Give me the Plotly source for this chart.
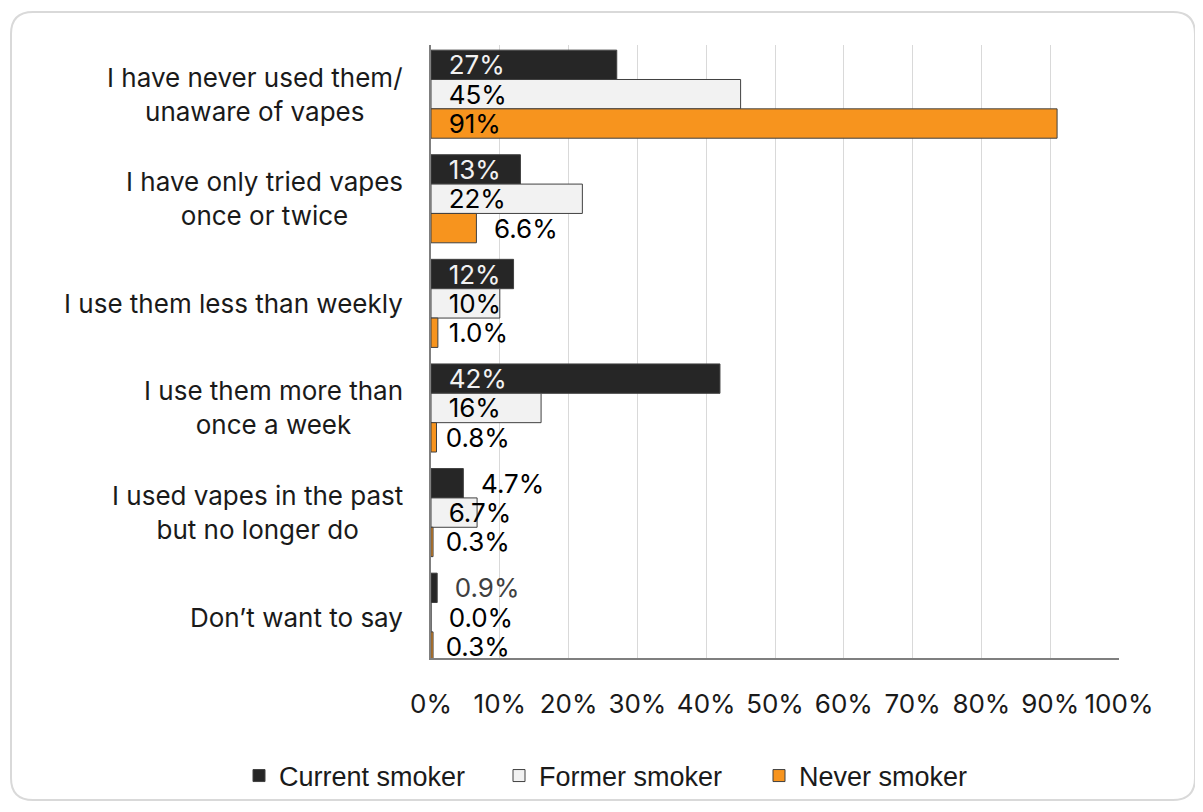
import plotly.graph_objects as go

categories = [
    "I have never used them/<br>unaware of vapes",
    "I have only tried vapes<br>once or twice",
    "I use them less than weekly",
    "I use them more than<br>once a week",
    "I used vapes in the past<br>but no longer do",
    "Don’t want to say",
]
current_smoker = [27, 13, 12, 42, 4.7, 0.9]
former_smoker = [45, 22, 10, 16, 6.7, 0.0]
never_smoker = [91, 6.6, 1.0, 0.8, 0.3, 0.3]
x_ticks = [0, 10, 20, 30, 40, 50, 60, 70, 80, 90, 100]

FONT = "Inter, Arial, sans-serif"
LEG_FONT = "Liberation Sans, Arial, sans-serif"
FS = 26
PAD = "\u00a0\u00a0"

def fmt(v):
    return f"{v:.0f}%" if v >= 10 else f"{v:.1f}%"

series = [
    ("Current smoker", current_smoker, "#262626",
     ["inside", "inside", "inside", "inside", "outside", "outside"],
     ["#f2f2f2", "#f2f2f2", "#f2f2f2", "#f2f2f2", "#000000", "#404040"]),
    ("Former smoker", former_smoker, "#f2f2f2",
     ["inside", "inside", "inside", "inside", "inside", "outside"], ["#000000"] * 6),
    ("Never smoker", never_smoker, "#f7941e",
     ["inside", "outside", "inside", "inside", "inside", "inside"],
     ["#000000"] * 6),
]

fig = go.Figure()
for name, vals, color, pos, tcol in series:
    fig.add_trace(go.Bar(
        y=categories, x=vals, name=name, orientation="h",
        marker=dict(color=color, line=dict(color="#404040", width=1)),
        text=[PAD + fmt(v) for v in vals],
        textposition=pos,
        insidetextanchor="start",
        textangle=0,
        constraintext="none",
        cliponaxis=False,
        textfont=dict(family=FONT, size=FS, color=tcol),
        hoverinfo="skip",
    ))

# page has an 8px body margin; figure coordinates = page coordinates - 8
W, H = 1187, 796
L, R, T, B = 423, 76, 37, 146
pw, ph = W - L - R, H - T - B

def px(x):
    return (x - L) / pw

def py(y):
    return (H - B - y) / ph

# rounded frame
x0, x1, y0, y1, r = 3, 1187, 4, 792, 22
rx, ry = r / pw, r / ph
X0, X1, Y0, Y1 = px(x0), px(x1), py(y0), py(y1)
path = (f"M {X0+rx},{Y0} L {X1-rx},{Y0} Q {X1},{Y0} {X1},{Y0-ry} "
        f"L {X1},{Y1+ry} Q {X1},{Y1} {X1-rx},{Y1} "
        f"L {X0+rx},{Y1} Q {X0},{Y1} {X0},{Y1+ry} "
        f"L {X0},{Y0-ry} Q {X0},{Y0} {X0+rx},{Y0} Z")
fig.add_shape(type="path", path=path, xref="paper", yref="paper",
              line=dict(color="#d9d9d9", width=2), layer="below")

for c in categories:
    fig.add_annotation(x=px(397), y=c, xref="paper", yref="y", text=c,
                       showarrow=False, xanchor="right", align="center",
                       font=dict(family=FONT, size=FS, color="#1a1a1a"))

fig.update_layout(
    width=W, height=H,
    margin=dict(l=L, r=R, t=T, b=B, autoexpand=False),
    paper_bgcolor="white", plot_bgcolor="white",
    barmode="group", bargap=0.158, bargroupgap=0,
    font=dict(family=FONT, size=FS, color="#1a1a1a"),
    showlegend=True,
    legend=dict(orientation="h", x=px(231), xanchor="left", y=py(768), yanchor="middle",
                font=dict(family=LEG_FONT, size=27, color="#1a1a1a"), traceorder="normal",
                entrywidth=215, itemclick=False, bgcolor="rgba(0,0,0,0)"),
    xaxis=dict(range=[0, 100], tickvals=x_ticks, ticktext=[f"{t}%" for t in x_ticks],
               showgrid=True, gridcolor="#d9d9d9", gridwidth=1,
               showline=True, linecolor="#7f7f7f", linewidth=1.5,
               ticks="outside", ticklen=22, tickcolor="rgba(0,0,0,0)",
               zeroline=False, fixedrange=True,
               tickfont=dict(family=FONT, size=FS, color="#1a1a1a")),
    yaxis=dict(categoryorder="array", categoryarray=categories,
               range=[5.39, -0.47], showticklabels=False, showgrid=False,
               showline=True, linecolor="#7f7f7f", linewidth=1.5, ticks="",
               zeroline=False, fixedrange=True),
)

fig.write_html("out.html")
